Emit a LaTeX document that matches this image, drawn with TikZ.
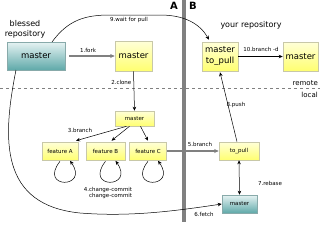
\documentclass[tikz,border=0pt]{standalone}
\usepackage{fontspec}
\setmainfont{DejaVu Sans}
\usetikzlibrary{arrows.meta,calc}
\definecolor{ytop}{HTML}{FFFFD8}
\definecolor{ybot}{HTML}{FFFF70}
\definecolor{yedge}{HTML}{C8C8A8}
\definecolor{ttop}{HTML}{E6F3F3}
\definecolor{tbot}{HTML}{5FA9A9}
\definecolor{tedge}{HTML}{88AAAA}
\begin{document}
\begin{tikzpicture}[x=1pt,y=-1pt,
  ybox/.style={draw=yedge, line width=0.6pt, top color=ytop, bottom color=ybot, inner sep=0pt, align=center},
  tbox/.style={draw=tedge, line width=0.6pt, top color=ttop, bottom color=tbot, inner sep=0pt, align=center},
  bigtxt/.style={font=\fontsize{8.5}{10}\selectfont},
  smtxt/.style={font=\fontsize{5.5}{6.5}\selectfont},
  lbl/.style={font=\fontsize{5.5}{6.5}\selectfont, inner sep=0.5pt},
  arr/.style={-{Stealth[length=4pt,width=3.5pt]}, line width=0.5pt},
  garr/.style={-{Stealth[length=4.5pt,width=4pt]}, draw=gray, line width=1.2pt},
]
\useasboundingbox (0,0) rectangle (320,225);
% divider
\fill[gray] (181.5,0) rectangle (185.5,222);
\node[font=\bfseries\fontsize{10}{12}\selectfont, inner sep=0pt] (labA) at (174,6) {A};
\node[font=\bfseries\fontsize{10}{12}\selectfont, inner sep=0pt] (labB) at (193,6) {B};
% dashed separator
\draw[gray, dashed, line width=0.4pt] (0,88) -- (320,88);
\node[font=\fontsize{7}{8}\selectfont, anchor=east, inner sep=0pt] (remote) at (318,83) {remote};
\node[font=\fontsize{7}{8}\selectfont, anchor=east, inner sep=0pt] (local) at (318,95) {local};
% texts
\node[font=\fontsize{8}{10}\selectfont, align=center, inner sep=0pt] (blessedlbl) at (25,29) {blessed\\repository};
\node[font=\fontsize{8}{10}\selectfont, inner sep=0pt] (yourlbl) at (251,25) {your repository};
% boxes
\node[tbox, bigtxt, minimum width=58pt, minimum height=28pt] (bless) at (36,56) {master};
\node[ybox, bigtxt, minimum width=37pt, minimum height=30pt] (rmaster) at (133.5,56) {master};
\node[ybox, bigtxt, minimum width=36pt, minimum height=29pt, font=\fontsize{8.5}{11}\selectfont] (yours) at (220,56.5) {master\\to\_pull};
\node[ybox, bigtxt, minimum width=35pt, minimum height=29pt] (ymaster) at (300.5,56.5) {master};
\node[ybox, smtxt, minimum width=39pt, minimum height=15pt] (lmaster) at (134.5,118.5) {master};
\node[ybox, smtxt, minimum width=36pt, minimum height=18pt] (fa) at (60,151) {feature A};
\node[ybox, smtxt, minimum width=39pt, minimum height=18pt] (fb) at (105.5,151) {feature B};
\node[ybox, smtxt, minimum width=37pt, minimum height=18pt] (fc) at (148,151) {feature C};
\node[ybox, smtxt, minimum width=40pt, minimum height=18pt] (topull) at (239,151) {to\_pull};
\node[tbox, smtxt, minimum width=35pt, minimum height=18pt] (tmaster) at (239.5,204) {master};
% connectors
\draw[garr] (bless.east) ++(4,0) coordinate (forkstart) -- (rmaster.west);
\node[lbl] (l1) at (88,50) {1.fork};
\draw[arr] (rmaster.south) -- (lmaster.north);
\node[lbl, anchor=east] (l2) at (132,82) {2.clone};
\draw[arr] ($(lmaster.south)+(-8,0)$) -- ($(fa.north)+(16,-1)$);
\draw[arr] ($(lmaster.south)+(-5,0)$) -- ($(fb.north)+(6,-1)$);
\draw[arr] ($(lmaster.south)+(6,0)$) -- ($(fc.north)+(0,-1)$);
\node[lbl] (l3) at (80,130) {3.branch};
\foreach \b in {fa,fb,fc}{
  \draw[arr] ($(\b.south)+(0,1)$) .. controls +(-22,28) and +(20,28) .. ($(\b.south)+(10,0.5)$);
}
\node[lbl, align=right] (l4) at (108,193) {4.change-commit\\change-commit};
\draw[garr] (fc.east) -- (topull.west);
\node[lbl] (l5) at (200,144) {5.branch};
\draw[arr] (16,70) .. controls (2,140) and (0,205) .. (80,213)
  .. controls (130,217) and (175,211) .. (tmaster.west);
\node[lbl] (l6) at (204,214) {6.fetch};
\draw[{Stealth[length=4pt,width=3.5pt]}-{Stealth[length=4pt,width=3.5pt]}, line width=0.5pt] (topull.south) -- (tmaster.north);
\node[lbl] (l7) at (270,183) {7.rebase};
\draw[arr] ($(topull.north)+(-2,0)$) -- ($(yours.south)+(0,1)$);
\node[lbl] (l8) at (236,105) {8.push};
\draw[arr] (52,42) .. controls (68,20) and (85,15) .. (110,15) -- (160,15)
  .. controls (185,15) and (200,24) .. ($(yours.north)+(-11,-2)$);
\node[lbl] (l9) at (129,20) {9.wait for pull};
\draw[arr] (yours.east) -- (ymaster.west);
\node[lbl] (l10) at (261,49) {10.branch -d};
\end{tikzpicture}
\end{document}
